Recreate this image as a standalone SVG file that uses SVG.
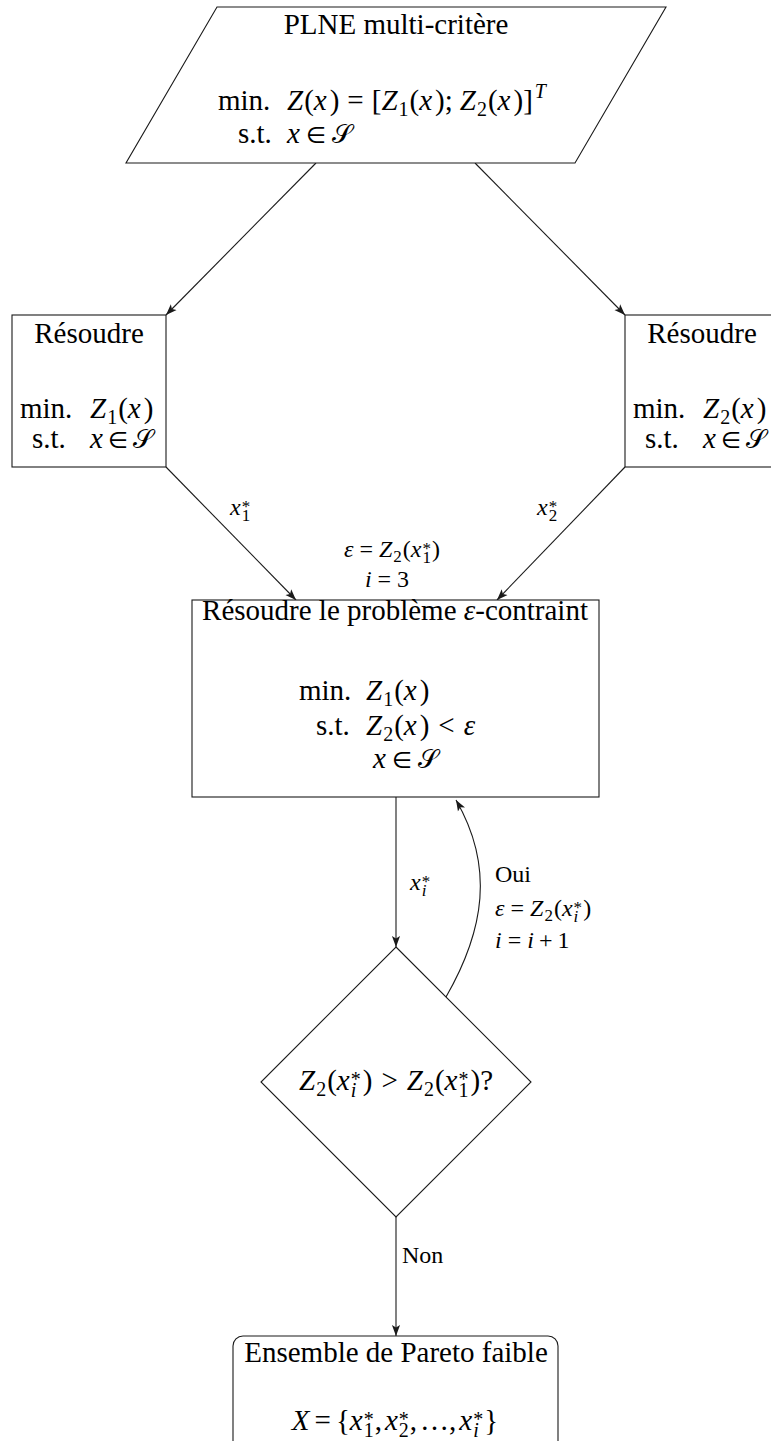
<svg xmlns="http://www.w3.org/2000/svg" width="771" height="1441" viewBox="0 0 771 1441">
<style>
text{font-family:"Liberation Serif","Times New Roman",serif;font-size:29px;fill:#000}
.sm{font-size:24px}
.i{font-style:italic}
.b{font-size:20px}
.sm .b{font-size:17px}
.el{font-family:"DejaVu Sans",sans-serif;font-size:23px}
.sc{font-size:26px}
.shape{fill:#fff;stroke:#1a1a1a;stroke-width:1.1}
.conn path{fill:none;stroke:#1a1a1a;stroke-width:1.1;marker-end:url(#ah)}
</style>
<defs>
<marker id="ah" viewBox="0 0 10 10" refX="10" refY="5" markerWidth="11" markerHeight="11" markerUnits="userSpaceOnUse" orient="auto"><path d="M0,1.3 L10,5 L0,8.7 L2.3,5 z" fill="#1a1a1a"/></marker>
</defs>
<rect width="771" height="1441" fill="#fff"/>

<g id="conn" class="conn">
<path d="M316,163 L166,315"/>
<path d="M475,163 L625,315"/>
<path d="M166,467 L296,600"/>
<path d="M625,467 L497,600"/>
<path d="M396,797 L396,947"/>
<path d="M446,997 C484.5,930 494.5,866.7 456,800"/>
<path d="M396,1217 L396,1336"/>
</g>

<g id="n-plne">
<polygon class="shape" points="217,7 666,7 575,163 126,163"/>
<text x="396" y="34" text-anchor="middle">PLNE multi-critère</text>
<text x="218" y="110">min.</text>
<text x="287" y="110"><tspan class="i">Z</tspan><tspan dx="1">(</tspan><tspan class="i">x</tspan><tspan dx="3">)</tspan><tspan dx="8">=</tspan><tspan dx="8">[</tspan><tspan class="i">Z</tspan><tspan class="b" dx="1" dy="6">1</tspan><tspan dy="-6" dx="1">(</tspan><tspan class="i">x</tspan><tspan dx="3">);</tspan><tspan class="i" dx="7">Z</tspan><tspan class="b" dx="1" dy="6">2</tspan><tspan dy="-6" dx="1">(</tspan><tspan class="i">x</tspan><tspan dx="3">)]</tspan><tspan class="b i" dx="2" dy="-12">T</tspan></text>
<text x="238" y="143">s.t.</text>
<text x="287" y="143"><tspan class="i">x</tspan><tspan class="el" dx="6">∈</tspan><tspan class="sc" dx="6">𝒮</tspan></text>
</g>

<g id="n-left">
<rect class="shape" x="12" y="315" width="154" height="152"/>
<text x="89" y="343" text-anchor="middle">Résoudre</text>
<text x="20" y="418">min.</text>
<text x="90" y="418"><tspan class="i">Z</tspan><tspan class="b" dx="1" dy="6">1</tspan><tspan dy="-6" dx="1">(</tspan><tspan class="i">x</tspan><tspan dx="3">)</tspan></text>
<text x="32" y="448">s.t.</text>
<text x="90" y="448"><tspan class="i">x</tspan><tspan class="el" dx="5">∈</tspan><tspan class="sc" dx="5">𝒮</tspan></text>
</g>

<g id="n-right">
<rect class="shape" x="625" y="315" width="154" height="152"/>
<text x="702" y="343" text-anchor="middle">Résoudre</text>
<text x="633" y="418">min.</text>
<text x="703" y="418"><tspan class="i">Z</tspan><tspan class="b" dx="1" dy="6">2</tspan><tspan dy="-6" dx="1">(</tspan><tspan class="i">x</tspan><tspan dx="3">)</tspan></text>
<text x="645" y="448">s.t.</text>
<text x="703" y="448"><tspan class="i">x</tspan><tspan class="el" dx="5">∈</tspan><tspan class="sc" dx="5">𝒮</tspan></text>
</g>

<g id="labels-top">
<text class="sm" x="230" y="515"><tspan class="i">x</tspan><tspan class="b" dx="1" dy="-3">*</tspan><tspan class="b" dx="-8.5" dy="9">1</tspan></text>
<text class="sm" x="537" y="515"><tspan class="i">x</tspan><tspan class="b" dx="1" dy="-3">*</tspan><tspan class="b" dx="-8.5" dy="9">2</tspan></text>
<text class="sm" x="392" y="557" text-anchor="middle"><tspan class="i">ε</tspan><tspan dx="6">=</tspan><tspan class="i" dx="6">Z</tspan><tspan class="b" dx="1" dy="5">2</tspan><tspan dy="-5" dx="1">(</tspan><tspan class="i">x</tspan><tspan class="b" dx="1" dy="-3">*</tspan><tspan class="b" dx="-8.5" dy="9">1</tspan><tspan dx="1" dy="-6">)</tspan></text>
<text class="sm" x="387" y="587" text-anchor="middle"><tspan class="i">i</tspan><tspan dx="6">=</tspan><tspan dx="6">3</tspan></text>
</g>

<g id="n-eps">
<rect class="shape" x="192" y="600" width="407" height="197"/>
<text x="395" y="620" text-anchor="middle">Résoudre le problème <tspan class="i">ε</tspan>-contraint</text>
<text x="299" y="700">min.</text>
<text x="366" y="700"><tspan class="i">Z</tspan><tspan class="b" dx="1" dy="6">1</tspan><tspan dy="-6" dx="1">(</tspan><tspan class="i">x</tspan><tspan dx="3">)</tspan></text>
<text x="316" y="735">s.t.</text>
<text x="366" y="735"><tspan class="i">Z</tspan><tspan class="b" dx="1" dy="6">2</tspan><tspan dy="-6" dx="1">(</tspan><tspan class="i">x</tspan><tspan dx="3">)</tspan><tspan dx="9">&lt;</tspan><tspan class="i" dx="9">ε</tspan></text>
<text x="373" y="768"><tspan class="i">x</tspan><tspan class="el" dx="6">∈</tspan><tspan class="sc" dx="6">𝒮</tspan></text>
</g>

<g id="labels-loop">
<text class="sm" x="410" y="890"><tspan class="i">x</tspan><tspan class="b" dx="1" dy="-3">*</tspan><tspan class="b i" dx="-8.5" dy="9">i</tspan></text>
<text class="sm" x="495" y="882">Oui</text>
<text class="sm" x="495" y="916"><tspan class="i">ε</tspan><tspan dx="6">=</tspan><tspan class="i" dx="6">Z</tspan><tspan class="b" dx="1" dy="5">2</tspan><tspan dy="-5" dx="1">(</tspan><tspan class="i">x</tspan><tspan class="b" dx="1" dy="-3">*</tspan><tspan class="b i" dx="-8.5" dy="9">i</tspan><tspan dx="5" dy="-6">)</tspan></text>
<text class="sm" x="495" y="948"><tspan class="i">i</tspan><tspan dx="6">=</tspan><tspan class="i" dx="6">i</tspan><tspan dx="5">+</tspan><tspan dx="5">1</tspan></text>
</g>

<g id="n-diamond">
<polygon class="shape" points="396,947 531,1082 396,1217 261,1082"/>
<text x="396" y="1090" text-anchor="middle"><tspan class="i">Z</tspan><tspan class="b" dx="1" dy="6">2</tspan><tspan dy="-6" dx="1">(</tspan><tspan class="i">x</tspan><tspan class="b" dx="1" dy="-4">*</tspan><tspan class="b i" dx="-10" dy="11">i</tspan><tspan dx="6.5" dy="-7">)</tspan><tspan dx="9">&gt;</tspan><tspan class="i" dx="9">Z</tspan><tspan class="b" dx="1" dy="6">2</tspan><tspan dy="-6" dx="1">(</tspan><tspan class="i">x</tspan><tspan class="b" dx="1" dy="-4">*</tspan><tspan class="b" dx="-10" dy="11">1</tspan><tspan dx="2" dy="-7">)?</tspan></text>
</g>

<text class="sm" x="402" y="1263">Non</text>

<g id="n-pareto">
<rect class="shape" x="233" y="1336" width="325" height="130" rx="10"/>
<text x="396" y="1362" text-anchor="middle">Ensemble de Pareto faible</text>
<text x="395" y="1430" text-anchor="middle"><tspan class="i">X</tspan><tspan dx="5">=</tspan><tspan dx="5">{</tspan><tspan class="i">x</tspan><tspan class="b" dx="1" dy="-4">*</tspan><tspan class="b" dx="-10" dy="11">1</tspan><tspan dx="1" dy="-7">,</tspan><tspan class="i" dx="3">x</tspan><tspan class="b" dx="1" dy="-4">*</tspan><tspan class="b" dx="-10" dy="11">2</tspan><tspan dx="1" dy="-7">,</tspan><tspan dx="3">…,</tspan><tspan class="i" dx="3">x</tspan><tspan class="b" dx="1" dy="-4">*</tspan><tspan class="b i" dx="-10" dy="11">i</tspan><tspan dx="5.5" dy="-7">}</tspan></text>
</g>
</svg>
